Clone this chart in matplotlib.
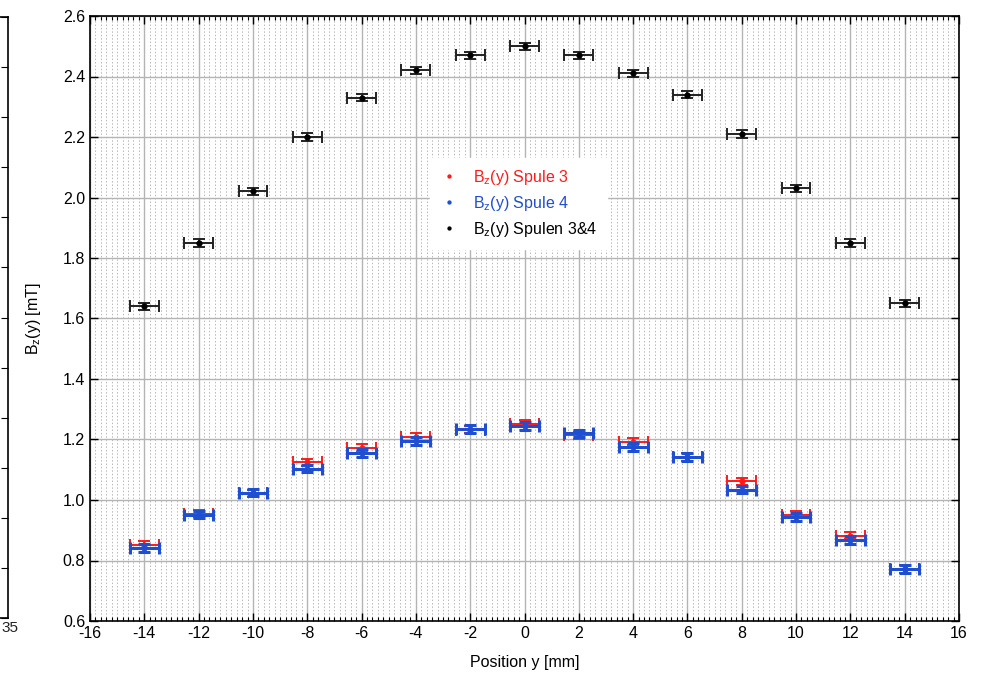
import numpy as np
import matplotlib
matplotlib.use("Agg")
import matplotlib.pyplot as plt
from matplotlib.ticker import MultipleLocator

plt.rcParams['font.family'] = ['Liberation Sans', 'DejaVu Sans']
plt.rcParams['axes.unicode_minus'] = False

# measured positions and field values
pos = [-14, -12, -10, -8, -6, -4, -2, 0, 2, 4, 6, 8, 10, 12, 14]
bz_spule3 = [0.851, 0.955, 1.022, 1.124, 1.172, 1.208, 1.232, 1.252, 1.214, 1.193, 1.142, 1.062, 0.952, 0.882, 0.772]
bz_spule4 = [0.841, 0.952, 1.024, 1.104, 1.155, 1.195, 1.235, 1.245, 1.220, 1.175, 1.142, 1.034, 0.944, 0.868, 0.772]
bz_spulen34 = [1.64, 1.85, 2.02, 2.20, 2.33, 2.42, 2.47, 2.50, 2.47, 2.41, 2.34, 2.21, 2.03, 1.85, 1.65]
pos_err = 0.53
bz_err = 0.012

fig = plt.figure(figsize=(9.85, 6.78), dpi=100)

# right edge of the neighbouring plot, cut off at the left
ax0 = fig.add_axes([-0.5, 1 - 618 / 678, 0.5 + 8 / 985, (618 - 17) / 678])
ax0.set_xlim(0, 1)
ax0.set_ylim(0, 12)
ax0.yaxis.set_major_locator(MultipleLocator(1))
ax0.tick_params(axis='y', which='both', direction='in', right=True, left=False,
                labelleft=False, length=5)
ax0.set_xticks([])
for s in ax0.spines.values():
    s.set_linewidth(1.2)
fig.text(1 / 985, 1 - 628 / 678, '35', ha='left', va='center', fontsize=11, color='#222222')

ax = fig.add_axes([90 / 985, 1 - 621 / 678, (959 - 90) / 985, (621 - 16) / 678])
ax.set_xlim(-16, 16)
ax.set_ylim(0.6, 2.6)
ax.xaxis.set_major_locator(MultipleLocator(2))
ax.xaxis.set_minor_locator(MultipleLocator(0.2))
ax.yaxis.set_major_locator(MultipleLocator(0.2))
ax.yaxis.set_major_formatter(plt.FuncFormatter(lambda v, p: '%.1f' % v))

ax.grid(True, which='major', color='#b4b4b4', lw=1.0, ls='-')
ax.grid(True, which='minor', axis='x', color='#b8b8b8', lw=0.7, ls=(0, (1.5, 2)))
ax.set_axisbelow(True)

ax.tick_params(which='both', direction='in', top=True, right=True, labelsize=11.5)
ax.tick_params(which='major', length=6, width=1)
ax.tick_params(which='minor', length=3, width=0.8)
for s in ax.spines.values():
    s.set_linewidth(1.2)

bz = r'B$\mathregular{_z}$(y)'
ax.errorbar(pos, bz_spulen34, xerr=pos_err, yerr=bz_err, fmt='o', ms=3.5, color='black',
            ecolor='#222222', elinewidth=1.4, capsize=4, capthick=1.4,
            label=bz + ' Spulen 3&4', zorder=3)
ax.errorbar(pos, bz_spule3, xerr=pos_err, yerr=bz_err, fmt='o', ms=3.5, color='#ff1a1a',
            ecolor='#ff1a1a', elinewidth=1.4, capsize=4, capthick=1.4,
            label=bz + ' Spule 3', zorder=3)
ax.errorbar(pos, bz_spule4, xerr=pos_err, yerr=bz_err, fmt='o', ms=3.5, color='#1f4fd0',
            ecolor='#1f4fd0', elinewidth=2.2, capsize=4, capthick=2.2,
            label=bz + ' Spule 4', zorder=4)

h, l = ax.get_legend_handles_labels()
order = [1, 2, 0]
leg = ax.legend([h[i][0] for i in order], [l[i] for i in order],
                loc='upper left', bbox_to_anchor=((422 - 90) / 869, 1 - (150 - 16) / 605),
                frameon=True, fancybox=False, edgecolor='white', facecolor='white',
                framealpha=1, fontsize=11.5, markerscale=0.6, handlelength=1.2,
                handletextpad=0.9, labelspacing=0.45, borderpad=0.6)
for txt, c in zip(leg.get_texts(), ['#ff1a1a', '#1f4fd0', 'black']):
    txt.set_color(c)

ax.set_xlabel('Position y [mm]', fontsize=11.5, labelpad=10)
ax.set_ylabel(bz + ' [mT]', fontsize=11.5, labelpad=14)

fig.savefig('out.png', dpi=100)
